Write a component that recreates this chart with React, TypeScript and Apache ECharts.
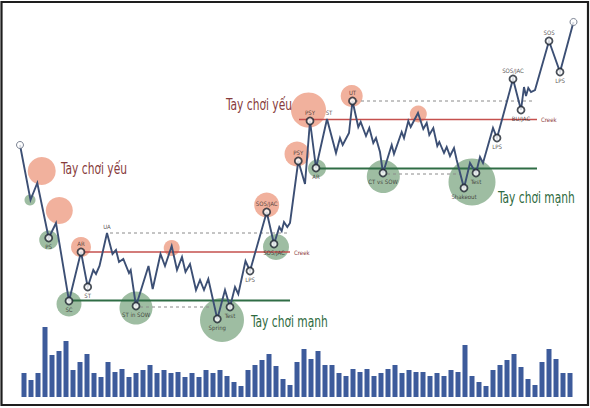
import React, { useEffect, useRef } from "react";
import * as echarts from "echarts";

// ---------- price path (time, price) ----------
const times: number[] = [
  20, 30.5, 37.3, 48.7, 56, 69, 81, 87.7, 93.3, 96, 99.5, 107, 112.5, 116, 119, 123.3, 129, 130.7, 136,
  148.5, 152.7, 160.5, 165, 171.7, 177, 182, 185.5, 190, 196, 200, 204, 208.3, 217.3, 225, 230, 235, 238.3,
  245.5, 250, 266.7, 274, 279.3, 281.7, 284, 287.3, 290, 298.3, 305, 310, 316, 327, 336, 340, 342.7, 349,
  352.5, 358.3, 360.7, 366, 369.3, 373.3, 376, 380, 383, 391.7, 394, 401.7, 404, 408.3, 410.7, 418, 423.3,
  426.7, 429.3, 433.3, 437.3, 439.3, 444, 446.7, 450, 454, 456.7, 464, 470, 476, 480, 483, 493, 497, 513,
  521, 524, 526, 528.3, 531, 535, 549, 560, 573.5,
];
const prices: number[] = [
  263, 208, 225, 170, 185, 107, 156, 121, 138, 134, 142, 175, 154, 158, 146, 149, 135, 138, 102,
  142, 119, 154, 142, 162, 138, 151, 136, 144, 118, 128, 118, 129, 89, 118, 101, 121, 114,
  147, 137, 196, 164, 181, 177, 186, 181, 185, 247, 224, 287, 240, 289, 255, 270, 263, 275,
  307, 281, 286, 272, 280, 265, 270, 256, 235, 263, 254, 276, 270, 287, 281, 295, 279,
  285, 273, 280, 262, 266, 255, 261, 252, 260, 248, 220, 245, 235, 251, 245, 280, 270, 329,
  298, 321, 312, 320, 316, 318, 367, 336, 386,
];

// ---------- events (time, price, label, label position) ----------
const eventTimes: number[] = [48.7, 69, 81, 87.7, 136, 217.3, 230, 250, 266.7, 274, 298.3, 310, 316, 352.5, 383, 464, 476, 497, 513, 521, 549, 560];
const eventPrices: number[] = [170, 107, 156, 121, 102, 89, 101, 137, 196, 164, 247, 287, 240, 307, 235, 220, 235, 270, 329, 298, 367, 336];
const eventLabels: string[] = ["PS", "SC", "AR", "ST", "ST in SOW", "Spring", "Test", "LPS", "SOS/JAC", "SOS/JAC", "PSY", "PSY", "AR", "UT", "CT vs SOW", "Shakeout", "Test", "LPS", "SOS/JAC", "BU/JAC", "SOS", "LPS"];
const eventLabelPos: string[] = ["bottom", "bottom", "top", "bottom", "bottom", "bottom", "bottom", "bottom", "top", "bottom", "top", "top", "bottom", "top", "bottom", "bottom", "bottom", "bottom", "top", "bottom", "top", "bottom"];
const endpointTimes: number[] = [20, 573.5];
const endpointPrices: number[] = [263, 386];

// labels that sit on a peak without a marker
const peakLabelTimes: number[] = [107, 329];
const peakLabelPrices: number[] = [175, 289];
const peakLabels: string[] = ["UA", "ST"];

// ---------- bubbles (time, price, weight) ----------
const weakTimes: number[] = [41.7, 59.3, 81, 171.7, 266.7, 297, 308.5, 351.7, 418.3];
const weakPrices: number[] = [237, 197.5, 161, 160, 203, 254, 298, 312, 294];
const weakWeights: number[] = [14, 13.5, 10, 8, 12.5, 12.5, 17.5, 11, 8.5];
const strongTimes: number[] = [30, 48.7, 69, 136, 222, 276, 317, 383.3, 472];
const strongPrices: number[] = [208, 168, 104, 100, 88, 161, 239.5, 231.5, 226];
const strongWeights: number[] = [5.5, 9.5, 12.5, 16.5, 22, 13, 9, 16.5, 23.5];

// ---------- levels (from, to, price) ----------
const creekLevels: [number, number, number][] = [[81, 290, 156], [299, 537, 288.5]];
const supportLevels: [number, number, number][] = [[69, 290, 107.5], [318, 537, 239.5]];
const dashedLevels: [number, number, number][] = [[110, 290, 175], [140, 212, 101], [355, 535, 307], [387, 460, 234]];

// ---------- captions ----------
const captionTimes: number[] = [61, 226, 251, 498];
const captionPrices: number[] = [240, 304, 87, 211];
const captionTexts: string[] = ["Tay chơi yếu", "Tay chơi yếu", "Tay chơi mạnh", "Tay chơi mạnh"];
const captionKinds: string[] = ["weak", "weak", "strong", "strong"];

// ---------- volume ----------
const volume: number[] = [
  24, 17, 24, 70, 42, 46, 56, 27, 35, 43, 24, 20, 35, 25, 28, 20, 24, 27, 32, 24, 27, 24, 25, 20, 24, 20, 27, 24, 27, 21, 15, 11, 27, 32, 37, 43, 31, 18, 12, 35,
  48, 38, 46, 32, 32, 24, 21, 28, 25, 28, 21, 24, 28, 32, 24, 27, 25, 25, 21, 24, 21, 27, 25, 52, 21, 15, 11, 27, 32, 37, 43, 30, 18, 12, 35, 48, 38, 24, 24,
];
const volumeCategories: string[] = volume.map((_, i) => String(i + 1));

const NARROW = "'DejaVu Sans Condensed', 'DejaVu Sans', sans-serif";

const frameRect = {
  type: "rect", z: 100, silent: true,
  shape: { x: 1.5, y: 2, width: 586.5, height: 403 },
  style: { fill: "none", stroke: "#1e1e1e", lineWidth: 2.2 },
};

function buildOption() {
  const series: any[] = [];
  series.push({
    type: "scatter", xAxisIndex: 0, yAxisIndex: 0, z: 1, silent: true,
    data: weakTimes.map((t, i) => [t, weakPrices[i], weakWeights[i]]),
    symbolSize: (v: number[]) => v[2] * 2,
    itemStyle: { color: "rgba(234,140,110,0.85)" },
  });
  series.push({
    type: "scatter", xAxisIndex: 0, yAxisIndex: 0, z: 1, silent: true,
    data: strongTimes.map((t, i) => [t, strongPrices[i], strongWeights[i]]),
    symbolSize: (v: number[]) => v[2] * 2,
    itemStyle: { color: "rgba(112,158,118,0.85)" },
  });
  creekLevels.forEach(([a, b, p]) => {
    series.push({
      type: "line", xAxisIndex: 0, yAxisIndex: 0, z: 2, silent: true, symbol: "none",
      data: [[a, p], [b, p]],
      lineStyle: { color: "#c5504e", width: 1.6 },
      endLabel: { show: true, formatter: "Creek", color: "#8e3a3a", fontSize: 6, fontFamily: NARROW, distance: 4 },
    });
  });
  supportLevels.forEach(([a, b, p]) => {
    series.push({
      type: "line", xAxisIndex: 0, yAxisIndex: 0, z: 2, silent: true, symbol: "none",
      data: [[a, p], [b, p]],
      lineStyle: { color: "#2f6d45", width: 1.8 },
    });
  });
  dashedLevels.forEach(([a, b, p]) => {
    series.push({
      type: "line", xAxisIndex: 0, yAxisIndex: 0, z: 2, silent: true, symbol: "none",
      data: [[a, p], [b, p]],
      lineStyle: { color: "#8a8a8a", width: 1, type: [3, 3] },
    });
  });
  series.push({
    type: "line", xAxisIndex: 0, yAxisIndex: 0, z: 3, silent: true, symbol: "none",
    data: times.map((t, i) => [t, prices[i]]),
    lineStyle: { color: "#3c4f74", width: 1.9, join: "miter" },
  });
  series.push({
    type: "scatter", xAxisIndex: 0, yAxisIndex: 0, z: 4, silent: true,
    symbol: "circle", symbolSize: 7,
    itemStyle: { color: "#ffffff", borderColor: "#1d2430", borderWidth: 1.8 },
    data: eventTimes.map((t, i) => ({
      value: [t, eventPrices[i]],
      label: {
        show: true, formatter: eventLabels[i], position: eventLabelPos[i], distance: 1,
        fontSize: 6, color: "#2b2424", fontFamily: NARROW,
      },
    })),
  });
  series.push({
    type: "scatter", xAxisIndex: 0, yAxisIndex: 0, z: 4, silent: true,
    symbol: "circle", symbolSize: 7,
    itemStyle: { color: "#ffffff", borderColor: "#5a6478", borderWidth: 1 },
    data: endpointTimes.map((t, i) => [t, endpointPrices[i]]),
  });
  series.push({
    type: "scatter", xAxisIndex: 0, yAxisIndex: 0, z: 4, silent: true,
    symbol: "circle", symbolSize: 1, itemStyle: { color: "rgba(0,0,0,0)" },
    data: peakLabelTimes.map((t, i) => ({
      value: [t, peakLabelPrices[i]],
      label: { show: true, formatter: peakLabels[i], position: "top", distance: 3, fontSize: 6, color: "#2b2424", fontFamily: NARROW },
    })),
  });
  series.push({
    type: "bar", xAxisIndex: 1, yAxisIndex: 1, silent: true,
    data: volume, barWidth: 5,
    itemStyle: { color: "#3d5b9b" },
  });

  return {
    animation: false,
    backgroundColor: "#ffffff",
    grid: [
      { left: 0, right: 0, top: 0, bottom: 0 },
      { left: 20.5, width: 553, bottom: 11, height: 80 },
    ],
    xAxis: [
      { type: "value", gridIndex: 0, min: 0, max: 590, show: false },
      { type: "category", gridIndex: 1, data: volumeCategories, show: false },
    ],
    yAxis: [
      { type: "value", gridIndex: 0, min: 0, max: 408, show: false },
      { type: "value", gridIndex: 1, min: 0, max: 80, show: false },
    ],
    graphic: [frameRect],
    series,
  };
}

export default function App() {
  const ref = useRef<HTMLDivElement>(null);
  useEffect(() => {
    const chart = echarts.init(ref.current!, null, { renderer: "svg" });
    chart.setOption(buildOption() as any);
    // captions: placed through the price scale, drawn condensed
    const captions = captionTimes.map((t, i) => {
      const [px, py] = chart.convertToPixel({ gridIndex: 0 }, [t, captionPrices[i]]) as number[];
      return {
        type: "text", z: 50, silent: true,
        x: px, y: py, scaleX: 0.72,
        style: {
          text: captionTexts[i],
          font: `16.5px ${NARROW}`,
          fill: captionKinds[i] === "weak" ? "#873b3b" : "#2e6a40",
          align: "left",
          verticalAlign: "middle",
        },
      };
    });
    chart.setOption({ graphic: [frameRect, ...captions] } as any);
    return () => chart.dispose();
  }, []);
  return (
    <div
      ref={ref}
      style={{ position: "fixed", left: 0, top: 0, width: 590, height: 408, background: "#fff" }}
    />
  );
}
